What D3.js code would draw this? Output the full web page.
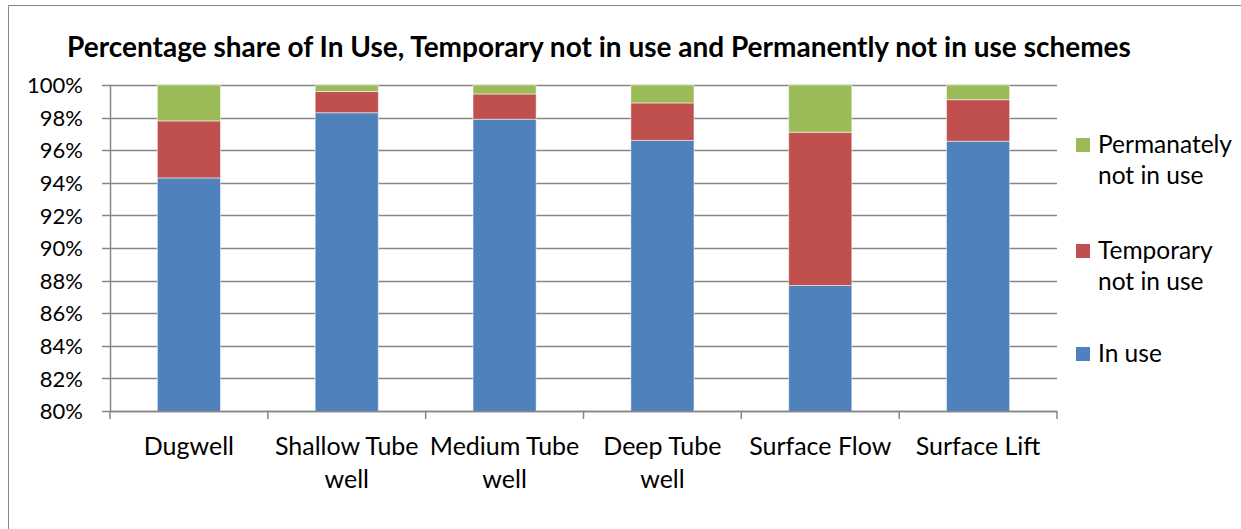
<!DOCTYPE html>
<html lang="en">
<head>
  <meta charset="UTF-8">
  <title>Scheme status</title>
  <style>
    body { margin: 0; background: #fff; }
    text { font-family: Lato, "Open Sans", sans-serif; fill: #000; }
  </style>
</head>
<body>
<svg width="1241" height="529"></svg>
<script src="https://cdn.jsdelivr.net/npm/d3@7"></script>
<script>
  var categories = ["Dugwell", "Shallow Tube well", "Medium Tube well", "Deep Tube well", "Surface Flow", "Surface Lift"];
  var inUse     = [94.3, 98.3, 97.9, 96.6, 87.7, 96.55];
  var temporary = [3.5, 1.3, 1.55, 2.3, 9.4, 2.55];
  var permanent = [2.2, 0.4, 0.55, 1.1, 2.9, 0.9];
  var yTicks = [80, 82, 84, 86, 88, 90, 92, 94, 96, 98, 100];

  var keys = ["inUse", "temporary", "permanent"];
  var colors = {inUse: "#4f81bd", temporary: "#c0504d", permanent: "#9bbb59"};

  var svg = d3.select("svg"),
      margin = {top: 85, left: 110},
      width = 1057 - margin.left,
      height = 411 - margin.top;

  // chart frame
  svg.append("path")
    .attr("d", "M8.5,540 V5.5 H1250")
    .attr("fill", "none")
    .attr("stroke", "#868686");

  svg.append("text")
    .attr("x", 599)
    .attr("y", 57)
    .attr("text-anchor", "middle")
    .style("font-size", "28px")
    .style("font-weight", "bold")
    .text("Percentage share of In Use, Temporary not in use and Permanently not in use schemes");

  var data = categories.map(function(c, i) {
    return {cat: c, inUse: inUse[i], temporary: temporary[i], permanent: permanent[i]};
  });

  var x = d3.scaleBand().domain(categories).range([0, width]).paddingInner(0.6).paddingOuter(0.3),
      y = d3.scaleLinear().domain([80, 100]).range([height, 0]);

  var g = svg.append("g")
    .attr("transform", "translate(" + margin.left + "," + margin.top + ")");

  // gridlines
  g.append("g")
    .selectAll("line")
    .data(yTicks)
    .enter().append("line")
    .attr("x1", -8).attr("x2", width)
    .attr("y1", function(d) { return Math.round(y(d)) + 0.5; })
    .attr("y2", function(d) { return Math.round(y(d)) + 0.5; })
    .attr("stroke", "#868686")
    .attr("stroke-width", 1.5);

  g.append("defs").append("clipPath").attr("id", "plot")
    .append("rect").attr("width", width).attr("height", height);

  var stack = d3.stack().keys(keys);

  var layer = g.append("g").attr("clip-path", "url(#plot)")
    .selectAll(".layer")
    .data(stack(data))
    .enter().append("g")
    .attr("fill", function(d) { return colors[d.key]; });

  layer.selectAll("rect")
    .data(function(d) { return d; })
    .enter().append("rect")
    .attr("x", function(d) { return x(d.data.cat); })
    .attr("width", x.bandwidth())
    .attr("y", function(d) { return y(Math.min(d[1], 100)); })
    .attr("height", function(d) { return y(Math.max(d[0], 70)) - y(Math.min(d[1], 100)); })
    .attr("stroke", "#fff")
    .attr("stroke-opacity", 0.5)
    .attr("stroke-width", 1);

  // y axis
  var yAxis = g.append("g")
    .call(d3.axisLeft(y).tickValues(yTicks).tickSize(8).tickFormat(function(d) { return d + "%"; }));
  yAxis.select(".domain").attr("stroke", "#868686").attr("stroke-width", 1.5).attr("d", "M0.5,0V" + height);
  yAxis.selectAll(".tick line").remove();
  yAxis.selectAll("text")
    .attr("x", -27)
    .attr("dy", "0.35em")
    .style("font-size", "22px")
    .style("font-family", "Lato, sans-serif");

  // x axis with boundary ticks
  var bounds = d3.range(categories.length + 1).map(function(i) { return i * width / categories.length; });
  var xg = g.append("g").attr("transform", "translate(0," + height + ")");
  xg.append("line").attr("x1", 0).attr("x2", width).attr("y1", 0.5).attr("y2", 0.5)
    .attr("stroke", "#868686").attr("stroke-width", 1.5);
  xg.selectAll(".btick")
    .data(bounds)
    .enter().append("line")
    .attr("x1", function(d) { return d; }).attr("x2", function(d) { return d; })
    .attr("y1", 0).attr("y2", 8)
    .attr("stroke", "#868686").attr("stroke-width", 1.5);

  var labelLines = {
    "Dugwell": ["Dugwell"],
    "Shallow Tube well": ["Shallow Tube", "well"],
    "Medium Tube well": ["Medium Tube", "well"],
    "Deep Tube well": ["Deep Tube", "well"],
    "Surface Flow": ["Surface Flow"],
    "Surface Lift": ["Surface Lift"]
  };
  var lbl = xg.selectAll(".xl")
    .data(categories)
    .enter().append("text")
    .attr("text-anchor", "middle")
    .attr("transform", function(d) { return "translate(" + (x(d) + x.bandwidth() / 2) + ",0)"; })
    .style("font-size", "25px");
  lbl.selectAll("tspan")
    .data(function(d) { return labelLines[d]; })
    .enter().append("tspan")
    .attr("x", 0)
    .attr("y", function(d, i) { return 44 + i * 33; })
    .text(function(d) { return d; });

  // legend
  var legendItems = [
    {key: "permanent", lines: ["Permanately", "not in use"], y: 145},
    {key: "temporary", lines: ["Temporary", "not in use"], y: 251},
    {key: "inUse", lines: ["In use"], y: 354}
  ];
  var item = svg.append("g").selectAll(".li")
    .data(legendItems)
    .enter().append("g");
  item.append("rect")
    .attr("x", 1076).attr("y", function(d) { return d.y - 7; })
    .attr("width", 14).attr("height", 14)
    .attr("fill", function(d) { return colors[d.key]; });
  item.append("text")
    .style("font-size", "24.5px")
    .selectAll("tspan")
    .data(function(d) { return d.lines.map(function(l, i) { return {t: l, y: d.y + 8 + i * 31}; }); })
    .enter().append("tspan")
    .attr("x", 1098)
    .attr("y", function(d) { return d.y; })
    .text(function(d) { return d.t; });
</script>
</body>
</html>
